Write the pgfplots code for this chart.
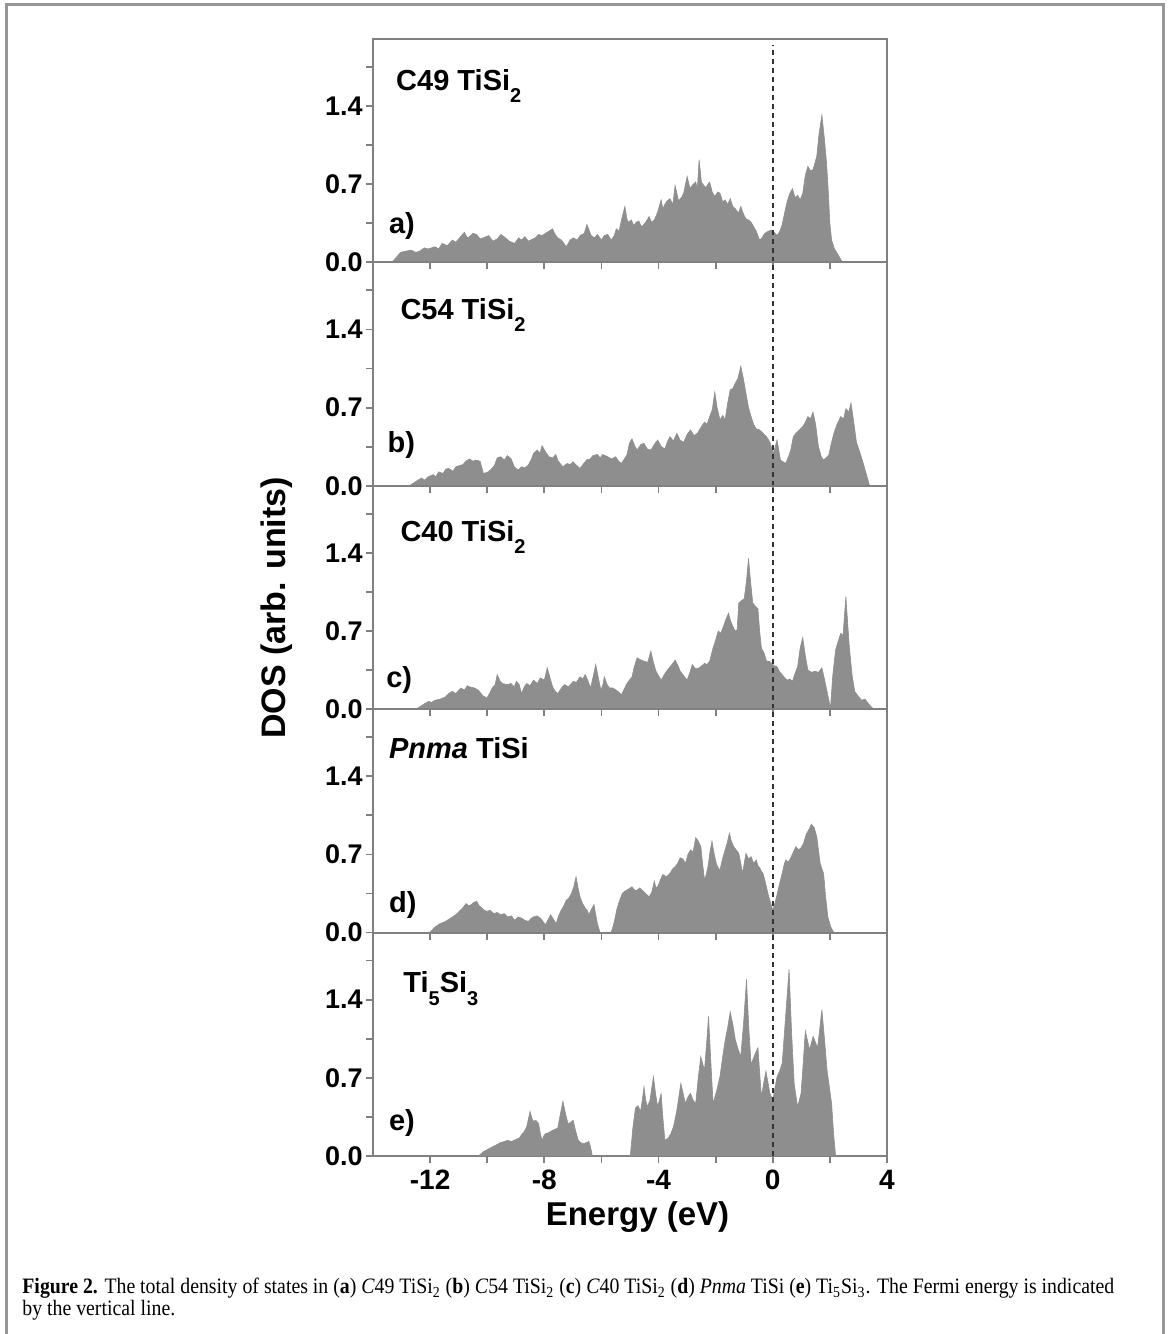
\documentclass[border=0pt]{standalone}
\usepackage{fontspec}
\setmainfont{Liberation Sans}
\newfontfamily\capfont{Liberation Serif}[FakeStretch=0.9]
\usepackage{pgfplots}
\pgfplotsset{compat=1.18}
\definecolor{dosgray}{RGB}{142,142,142}
\definecolor{axgray}{RGB}{128,128,128}
\definecolor{framegray}{RGB}{150,150,150}
\newcommand{\sub}[1]{\raisebox{-0.42em}{\fontsize{10}{10}\selectfont #1}}
\tikzset{plabel/.style={anchor=base west, inner sep=0pt, font=\bfseries\fontsize{14.5}{14.5}\selectfont}}
\pgfplotsset{dospanel/.style={
  scale only axis, width=257pt, height=111.7pt,
  xmin=-14, xmax=4, ymin=0, ymax=2,
  xtick={-12,-8,-4,0,4}, minor xtick={-10,-6,-2,2},
  ytick={0,0.7,1.4}, minor ytick={0.35,1.05,1.75},
  yticklabels={0.0,0.7,1.4},
  xticklabels={},
  tick align=outside,
  xtick pos=left, ytick pos=left,
  axis line style={draw=axgray, line width=0.9pt},
  tick style={draw=axgray, line width=0.9pt},
  major tick length=3.5pt, minor tick length=3.5pt,
  yticklabel style={font=\bfseries\fontsize{13.5}{13.5}\selectfont, text=black, xshift=1.8pt},
  xticklabel style={font=\bfseries\fontsize{14}{14}\selectfont, text=black},
  anchor=south west,
},
dosfill/.style={fill=dosgray, draw=dosgray, line width=0.3pt},
fermi/.style={draw=black!80, line width=1pt, dash pattern=on 2.5pt off 2pt}
}
\begin{document}
\begin{tikzpicture}[x=0.5pt,y=0.5pt]
\useasboundingbox (0,0) rectangle (1168,1334);
\draw[framegray, line width=1.5pt] (6,0) -- (6,1329) -- (1163,1329) -- (1163,0);

% panel a
\begin{axis}[dospanel, at={(186.5pt,535.8pt)}]
\addplot[dosfill] coordinates {
(-13.34,0) (-13.03,0.09) (-12.85,0.10) (-12.67,0.11) (-12.50,0.09) (-12.37,0.10) (-12.20,0.13) (-12.07,0.12) (-11.83,0.14) (-11.70,0.12) (-11.58,0.17) (-11.40,0.15) (-11.22,0.20) (-11.10,0.18) (-10.97,0.22) (-10.80,0.27) (-10.70,0.22) (-10.62,0.23) (-10.50,0.26) (-10.37,0.25) (-10.25,0.21) (-10.13,0.22) (-9.95,0.24) (-9.80,0.19) (-9.65,0.21) (-9.52,0.25) (-9.41,0.23) (-9.23,0.19) (-9.04,0.17) (-8.90,0.22) (-8.80,0.20) (-8.68,0.23) (-8.56,0.19) (-8.32,0.22) (-8.20,0.25) (-8.08,0.24) (-7.90,0.27) (-7.71,0.30) (-7.62,0.25) (-7.53,0.22) (-7.40,0.20) (-7.23,0.14) (-7.10,0.20) (-6.99,0.22) (-6.85,0.20) (-6.75,0.24) (-6.60,0.26) (-6.51,0.34) (-6.36,0.24) (-6.25,0.22) (-6.14,0.25) (-6.00,0.20) (-5.90,0.24) (-5.78,0.25) (-5.66,0.20) (-5.55,0.24) (-5.48,0.30) (-5.38,0.28) (-5.30,0.38) (-5.18,0.50) (-5.10,0.38) (-5.05,0.36) (-4.95,0.38) (-4.87,0.33) (-4.78,0.36) (-4.69,0.37) (-4.60,0.32) (-4.51,0.34) (-4.40,0.38) (-4.33,0.41) (-4.25,0.36) (-4.15,0.38) (-4.03,0.45) (-3.91,0.56) (-3.85,0.48) (-3.78,0.52) (-3.70,0.55) (-3.60,0.57) (-3.50,0.52) (-3.42,0.69) (-3.30,0.55) (-3.20,0.58) (-3.12,0.62) (-3.00,0.77) (-2.90,0.66) (-2.82,0.69) (-2.70,0.72) (-2.64,0.66) (-2.58,0.92) (-2.50,0.72) (-2.45,0.70) (-2.35,0.67) (-2.21,0.72) (-2.12,0.63) (-2.03,0.59) (-1.93,0.63) (-1.85,0.62) (-1.75,0.54) (-1.67,0.56) (-1.58,0.52) (-1.49,0.57) (-1.40,0.50) (-1.31,0.48) (-1.20,0.44) (-1.12,0.50) (-1.02,0.43) (-0.94,0.39) (-0.85,0.38) (-0.76,0.36) (-0.67,0.32) (-0.58,0.28) (-0.46,0.20) (-0.38,0.22) (-0.28,0.26) (-0.15,0.28) (-0.04,0.29) (0.05,0.27) (0.15,0.24) (0.25,0.28) (0.33,0.34) (0.42,0.45) (0.51,0.55) (0.60,0.62) (0.69,0.66) (0.78,0.58) (0.87,0.60) (0.96,0.56) (1.05,0.62) (1.14,0.78) (1.23,0.86) (1.32,0.82) (1.41,0.83) (1.54,0.95) (1.62,1.15) (1.72,1.32) (1.81,1.10) (1.88,0.90) (1.93,0.70) (2.00,0.35) (2.06,0.20) (2.16,0.12) (2.26,0.08) (2.44,0)
} \closedcycle;
\addplot[fermi] coordinates {(0,0) (0,1.95)};
\node[plabel] at (axis cs:-13.2,1.54) {C49 TiSi\sub{2}};
\node[plabel] at (axis cs:-13.45,0.26) {a)};
\end{axis}

% panel b
\begin{axis}[dospanel, at={(186.5pt,424.1pt)}]
\addplot[dosfill] coordinates {
(-12.73,0) (-12.43,0.05) (-12.30,0.07) (-12.20,0.05) (-12.07,0.08) (-11.90,0.10) (-11.80,0.08) (-11.70,0.125) (-11.55,0.11) (-11.45,0.15) (-11.34,0.155) (-11.20,0.13) (-11.10,0.17) (-10.98,0.18) (-10.85,0.19) (-10.75,0.22) (-10.62,0.24) (-10.50,0.22) (-10.40,0.23) (-10.25,0.22) (-10.13,0.11) (-10.00,0.12) (-9.89,0.14) (-9.75,0.18) (-9.65,0.25) (-9.53,0.26) (-9.40,0.23) (-9.30,0.27) (-9.17,0.245) (-9.05,0.17) (-8.92,0.14) (-8.80,0.17) (-8.68,0.16) (-8.56,0.185) (-8.45,0.24) (-8.38,0.29) (-8.25,0.32) (-8.15,0.29) (-8.08,0.36) (-7.95,0.30) (-7.84,0.26) (-7.70,0.25) (-7.60,0.28) (-7.53,0.23) (-7.45,0.20) (-7.35,0.17) (-7.20,0.20) (-7.10,0.19) (-6.99,0.215) (-6.90,0.19) (-6.75,0.155) (-6.62,0.20) (-6.51,0.235) (-6.40,0.24) (-6.30,0.27) (-6.14,0.28) (-6.05,0.25) (-5.95,0.28) (-5.78,0.26) (-5.65,0.24) (-5.50,0.26) (-5.40,0.22) (-5.30,0.20) (-5.11,0.275) (-5.02,0.38) (-4.93,0.42) (-4.84,0.36) (-4.75,0.32) (-4.62,0.37) (-4.51,0.38) (-4.40,0.33) (-4.27,0.32) (-4.15,0.37) (-4.03,0.41) (-3.90,0.35) (-3.78,0.33) (-3.68,0.40) (-3.60,0.44) (-3.48,0.40) (-3.36,0.47) (-3.25,0.41) (-3.12,0.39) (-3.00,0.46) (-2.88,0.50) (-2.76,0.45) (-2.64,0.47) (-2.50,0.53) (-2.39,0.57) (-2.30,0.55) (-2.21,0.62) (-2.12,0.68) (-2.03,0.84) (-1.95,0.70) (-1.85,0.59) (-1.75,0.63) (-1.67,0.59) (-1.58,0.74) (-1.49,0.86) (-1.40,0.87) (-1.31,0.92) (-1.22,0.96) (-1.12,1.07) (-1.03,0.96) (-0.94,0.83) (-0.85,0.70) (-0.76,0.62) (-0.67,0.55) (-0.58,0.51) (-0.46,0.50) (-0.34,0.47) (-0.22,0.44) (-0.10,0.39) (0.02,0.29) (0.15,0.41) (0.27,0.23) (0.45,0.20) (0.55,0.26) (0.63,0.32) (0.72,0.44) (0.81,0.47) (0.93,0.50) (1.05,0.53) (1.14,0.57) (1.23,0.62) (1.32,0.60) (1.41,0.66) (1.50,0.55) (1.60,0.35) (1.70,0.26) (1.78,0.23) (1.86,0.25) (1.96,0.275) (2.05,0.38) (2.14,0.47) (2.25,0.55) (2.38,0.62) (2.48,0.60) (2.56,0.69) (2.66,0.66) (2.74,0.74) (2.82,0.60) (2.93,0.39) (3.05,0.30) (3.17,0.20) (3.28,0.10) (3.39,0)
} \closedcycle;
\addplot[fermi] coordinates {(0,0) (0,2)};
\node[plabel] at (axis cs:-13.05,1.49) {C54 TiSi\sub{2}};
\node[plabel] at (axis cs:-13.5,0.30) {b)};
\end{axis}

% panel c
\begin{axis}[dospanel, at={(186.5pt,312.4pt)}]
\addplot[dosfill] coordinates {
(-12.49,0) (-12.19,0.05) (-12.05,0.07) (-11.95,0.06) (-11.83,0.08) (-11.65,0.09) (-11.46,0.11) (-11.35,0.14) (-11.22,0.16) (-11.10,0.14) (-10.92,0.19) (-10.80,0.17) (-10.70,0.21) (-10.62,0.20) (-10.45,0.19) (-10.31,0.17) (-10.15,0.12) (-10.01,0.10) (-9.90,0.15) (-9.83,0.19) (-9.72,0.22) (-9.65,0.31) (-9.55,0.25) (-9.47,0.23) (-9.30,0.22) (-9.17,0.23) (-9.05,0.20) (-8.98,0.25) (-8.88,0.22) (-8.80,0.14) (-8.70,0.20) (-8.62,0.23) (-8.50,0.21) (-8.38,0.26) (-8.25,0.23) (-8.14,0.28) (-8.00,0.26) (-7.90,0.37) (-7.80,0.28) (-7.71,0.20) (-7.62,0.16) (-7.53,0.14) (-7.40,0.19) (-7.29,0.22) (-7.15,0.20) (-6.99,0.25) (-6.88,0.24) (-6.75,0.29) (-6.65,0.27) (-6.57,0.31) (-6.48,0.26) (-6.38,0.19) (-6.30,0.28) (-6.20,0.40) (-6.10,0.27) (-6.02,0.17) (-5.95,0.22) (-5.90,0.29) (-5.80,0.22) (-5.72,0.19) (-5.60,0.19) (-5.48,0.17) (-5.38,0.15) (-5.30,0.13) (-5.20,0.18) (-5.11,0.23) (-5.02,0.26) (-4.93,0.29) (-4.85,0.38) (-4.75,0.46) (-4.62,0.44) (-4.51,0.43) (-4.38,0.42) (-4.27,0.52) (-4.18,0.42) (-4.09,0.34) (-4.00,0.30) (-3.91,0.26) (-3.80,0.31) (-3.72,0.34) (-3.60,0.38) (-3.50,0.41) (-3.42,0.44) (-3.32,0.39) (-3.24,0.34) (-3.12,0.30) (-3.00,0.26) (-2.90,0.33) (-2.82,0.40) (-2.70,0.36) (-2.58,0.37) (-2.48,0.39) (-2.39,0.41) (-2.30,0.40) (-2.21,0.43) (-2.09,0.55) (-2.00,0.62) (-1.91,0.70) (-1.82,0.68) (-1.73,0.74) (-1.65,0.80) (-1.55,0.86) (-1.49,0.80) (-1.43,0.76) (-1.32,0.70) (-1.25,0.71) (-1.19,0.95) (-1.10,0.97) (-1.00,0.99) (-0.92,1.15) (-0.85,1.35) (-0.78,1.15) (-0.70,0.95) (-0.60,0.92) (-0.52,0.90) (-0.46,0.70) (-0.40,0.55) (-0.30,0.50) (-0.22,0.43) (-0.12,0.43) (-0.04,0.41) (0.05,0.39) (0.15,0.38) (0.25,0.33) (0.33,0.31) (0.42,0.28) (0.51,0.26) (0.60,0.27) (0.69,0.25) (0.78,0.32) (0.87,0.38) (0.96,0.55) (1.05,0.64) (1.14,0.48) (1.23,0.35) (1.36,0.33) (1.48,0.34) (1.60,0.33) (1.72,0.37) (1.80,0.28) (1.90,0.16) (2.02,0.01) (2.10,0.30) (2.20,0.53) (2.28,0.60) (2.38,0.68) (2.46,0.66) (2.56,1.01) (2.62,0.78) (2.68,0.56) (2.78,0.30) (2.87,0.16) (2.98,0.12) (3.11,0.08) (3.23,0.09) (3.38,0.04) (3.53,0)
} \closedcycle;
\addplot[fermi] coordinates {(0,0) (0,2)};
\node[plabel] at (axis cs:-13.05,1.50) {C40 TiSi\sub{2}};
\node[plabel] at (axis cs:-13.55,0.19) {c)};
\end{axis}

% panel d
\begin{axis}[dospanel, at={(186.5pt,200.7pt)}]
\addplot[dosfill] coordinates {
(-12.01,0) (-11.83,0.05) (-11.65,0.08) (-11.46,0.10) (-11.28,0.13) (-11.10,0.16) (-10.98,0.19) (-10.86,0.22) (-10.74,0.26) (-10.65,0.24) (-10.56,0.25) (-10.47,0.27) (-10.37,0.28) (-10.28,0.24) (-10.19,0.22) (-10.10,0.20) (-10.01,0.19) (-9.90,0.20) (-9.77,0.17) (-9.65,0.18) (-9.53,0.16) (-9.40,0.17) (-9.29,0.14) (-9.15,0.15) (-9.04,0.11) (-8.92,0.14) (-8.80,0.13) (-8.68,0.11) (-8.56,0.10) (-8.45,0.13) (-8.38,0.14) (-8.26,0.15) (-8.14,0.13) (-8.05,0.10) (-7.96,0.07) (-7.86,0.12) (-7.78,0.16) (-7.68,0.12) (-7.59,0.08) (-7.50,0.15) (-7.41,0.20) (-7.32,0.24) (-7.23,0.29) (-7.14,0.31) (-7.05,0.35) (-6.96,0.42) (-6.89,0.50) (-6.82,0.40) (-6.75,0.32) (-6.66,0.26) (-6.57,0.22) (-6.50,0.20) (-6.44,0.16) (-6.35,0.21) (-6.26,0.25) (-6.20,0.16) (-6.14,0.08) (-6.05,0) (-5.66,0.005) (-5.60,0.05) (-5.54,0.11) (-5.45,0.22) (-5.36,0.29) (-5.27,0.35) (-5.18,0.37) (-5.05,0.39) (-4.93,0.41) (-4.84,0.38) (-4.75,0.38) (-4.66,0.40) (-4.57,0.38) (-4.45,0.35) (-4.33,0.32) (-4.24,0.36) (-4.15,0.46) (-4.09,0.40) (-4.03,0.41) (-3.94,0.47) (-3.85,0.52) (-3.72,0.50) (-3.60,0.53) (-3.51,0.57) (-3.42,0.59) (-3.33,0.62) (-3.24,0.67) (-3.15,0.66) (-3.06,0.62) (-2.97,0.70) (-2.88,0.74) (-2.79,0.72) (-2.70,0.85) (-2.61,0.82) (-2.52,0.77) (-2.45,0.60) (-2.39,0.47) (-2.33,0.52) (-2.27,0.59) (-2.20,0.72) (-2.13,0.82) (-2.05,0.70) (-1.97,0.61) (-1.91,0.58) (-1.85,0.56) (-1.76,0.66) (-1.67,0.74) (-1.60,0.80) (-1.52,0.89) (-1.45,0.82) (-1.37,0.77) (-1.28,0.74) (-1.19,0.71) (-1.12,0.62) (-1.06,0.53) (-1.00,0.62) (-0.94,0.71) (-0.85,0.66) (-0.76,0.68) (-0.67,0.62) (-0.58,0.65) (-0.52,0.60) (-0.46,0.58) (-0.40,0.55) (-0.34,0.53) (-0.25,0.44) (-0.16,0.34) (-0.08,0.27) (0,0.20) (0.07,0.26) (0.15,0.34) (0.24,0.44) (0.33,0.53) (0.39,0.60) (0.45,0.65) (0.54,0.63) (0.63,0.67) (0.72,0.72) (0.81,0.77) (0.90,0.74) (0.99,0.76) (1.08,0.80) (1.17,0.88) (1.26,0.92) (1.35,0.97) (1.45,0.94) (1.54,0.86) (1.60,0.74) (1.66,0.62) (1.72,0.57) (1.78,0.53) (1.85,0.32) (1.93,0.14) (2.03,0.05) (2.14,0)
} \closedcycle;
\addplot[fermi] coordinates {(0,0) (0,2)};
\node[plabel] at (axis cs:-13.45,1.56) {\textit{Pnma} TiSi};
\node[plabel] at (axis cs:-13.45,0.18) {d)};
\end{axis}

% panel e
\begin{axis}[dospanel, at={(186.5pt,89pt)}, xticklabels={-12,-8,-4,0,4}]
\addplot[dosfill] coordinates {
(-10.31,0) (-10.13,0.04) (-9.98,0.06) (-9.83,0.08) (-9.68,0.10) (-9.53,0.12) (-9.40,0.13) (-9.29,0.14) (-9.15,0.13) (-8.98,0.15) (-8.88,0.16) (-8.80,0.19) (-8.70,0.22) (-8.62,0.26) (-8.55,0.34) (-8.50,0.40) (-8.44,0.34) (-8.38,0.31) (-8.30,0.32) (-8.20,0.29) (-8.14,0.20) (-8.08,0.14) (-8.02,0.18) (-7.96,0.20) (-7.84,0.21) (-7.71,0.23) (-7.62,0.24) (-7.53,0.25) (-7.45,0.36) (-7.35,0.49) (-7.26,0.38) (-7.17,0.29) (-7.08,0.30) (-6.99,0.32) (-6.90,0.22) (-6.81,0.14) (-6.72,0.12) (-6.63,0.11) (-6.53,0.12) (-6.44,0.13) (-6.38,0.08) (-6.32,0) (-4.99,0) (-4.90,0.25) (-4.81,0.43) (-4.72,0.45) (-4.63,0.40) (-4.57,0.50) (-4.51,0.62) (-4.45,0.50) (-4.39,0.44) (-4.30,0.50) (-4.18,0.71) (-4.10,0.55) (-4.03,0.44) (-3.97,0.50) (-3.91,0.56) (-3.85,0.35) (-3.78,0.14) (-3.72,0.15) (-3.66,0.16) (-3.57,0.20) (-3.48,0.26) (-3.42,0.33) (-3.36,0.41) (-3.29,0.53) (-3.22,0.65) (-3.14,0.56) (-3.06,0.47) (-2.97,0.53) (-2.88,0.56) (-2.79,0.50) (-2.70,0.47) (-2.61,0.70) (-2.52,0.89) (-2.45,0.82) (-2.39,0.77) (-2.32,1.00) (-2.25,1.25) (-2.17,0.85) (-2.09,0.47) (-1.97,0.58) (-1.85,0.71) (-1.76,0.88) (-1.67,1.03) (-1.58,1.15) (-1.49,1.29) (-1.40,1.18) (-1.31,1.04) (-1.22,0.96) (-1.12,0.89) (-1.02,1.20) (-0.92,1.58) (-0.84,1.15) (-0.76,0.82) (-0.64,0.90) (-0.52,0.97) (-0.46,0.75) (-0.40,0.53) (-0.32,0.65) (-0.24,0.76) (-0.17,0.66) (-0.10,0.56) (0,0.50) (0.07,0.60) (0.15,0.71) (0.24,0.76) (0.33,0.83) (0.45,1.25) (0.57,1.67) (0.66,1.10) (0.75,0.65) (0.81,0.54) (0.87,0.44) (0.93,0.50) (0.99,0.56) (1.07,0.85) (1.14,1.12) (1.22,1.03) (1.29,0.95) (1.35,1.01) (1.41,1.07) (1.49,1.02) (1.57,0.97) (1.65,1.15) (1.72,1.31) (1.81,1.05) (1.90,0.77) (1.98,0.62) (2.06,0.47) (2.13,0.20) (2.20,0)
} \closedcycle;
\addplot[fermi] coordinates {(0,0) (0,2)};
\node[plabel] at (axis cs:-12.95,1.46) {Ti\sub{5}Si\sub{3}};
\node[plabel] at (axis cs:-13.45,0.23) {e)};
\end{axis}

\node[anchor=base, font=\bfseries\fontsize{16.5}{16.5}\selectfont] at (637.5,108) {Energy (eV)};
\node[rotate=90, anchor=center, font=\bfseries\fontsize{17}{17}\selectfont] at (277,726) {DOS (arb. units)};

\node[anchor=north west, align=left, inner sep=0pt, font=\capfont\fontsize{11}{11}\selectfont] at (22,56) {\textbf{Figure 2.} The total density of states in (\textbf{a}) \textit{C}49 TiSi\textsubscript{2} (\textbf{b}) \textit{C}54 TiSi\textsubscript{2} (\textbf{c}) \textit{C}40 TiSi\textsubscript{2} (\textbf{d}) \textit{Pnma} TiSi (\textbf{e}) Ti\textsubscript{5}Si\textsubscript{3}. The Fermi energy is indicated\\by the vertical line.};
\end{tikzpicture}
\end{document}
